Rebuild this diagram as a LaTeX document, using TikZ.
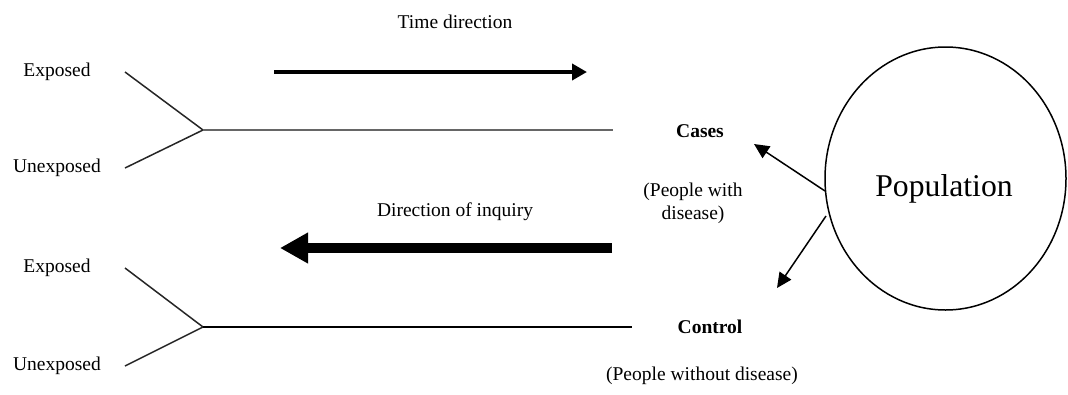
\documentclass[tikz,border=0pt]{standalone}
\usepackage{fontspec}
\setmainfont{Liberation Serif}
\usetikzlibrary{arrows.meta,shapes.geometric}
\begin{document}
\begin{tikzpicture}[x=1pt,y=-1pt,
  lbl/.style={inner sep=0pt,font=\fontsize{19.5}{23}\selectfont},
  boldlbl/.style={lbl,font=\fontsize{19.5}{23}\selectfont\bfseries},
  branch/.style={line width=1.5pt,black!85},
  thinarrow/.style={line width=1.5pt,-{Triangle[length=15pt,width=14pt]}},
  timearrow/.style={line width=4pt,-{Triangle[length=15pt,width=16pt]}},
  inquiryarrow/.style={line width=10pt,-{Triangle[length=28pt,width=29pt]}}]
\useasboundingbox (0,0) rectangle (1068,394);

% population
\node[draw,ellipse,line width=1.5pt,minimum width=241pt,minimum height=263pt,inner sep=0pt] (pop) at (945.5,178.5) {};
\node[inner sep=0pt,font=\fontsize{31.7}{36}\selectfont] (poplbl) at (944,189) {Population};

% cases branch
\node[lbl] (exp1) at (57,72) {Exposed};
\node[lbl] (unexp1) at (57,168) {Unexposed};
\coordinate (e1) at (125,72);
\coordinate (u1) at (125,168);
\coordinate (j1) at (203,130);
\coordinate (end1) at (613,130);
\draw[branch] (e1) -- (j1) -- (u1);
\draw[line width=1.4pt,black!60] (j1) -- (end1);
\node[boldlbl] (cases) at (700,131) {Cases};
\node[lbl,align=center] (withd) at (693,203) {(People with\\disease)};

% control branch
\node[lbl] (exp2) at (57,268) {Exposed};
\node[lbl] (unexp2) at (57,366) {Unexposed};
\coordinate (e2) at (125,268);
\coordinate (u2) at (125,366);
\coordinate (j2) at (203,327);
\coordinate (end2) at (632,327);
\draw[branch] (e2) -- (j2) -- (u2);
\draw[line width=1.5pt] (j2) -- (end2);
\node[boldlbl] (control) at (710,327) {Control};
\node[lbl] (withoutd) at (702,376) {(People without disease)};

% directions
\node[lbl] (timelbl) at (455,22) {Time direction};
\coordinate (t0) at (274,72);
\coordinate (t1) at (587,72);
\draw[timearrow] (t0) -- (t1);

\node[lbl] (inqlbl) at (455,212) {Direction of inquiry};
\coordinate (i0) at (612,248);
\coordinate (i1) at (280,248);
\draw[inquiryarrow] (i0) -- (i1);

% sampling from the population
\coordinate (p1) at (825,191);
\coordinate (p2) at (826,216);
\coordinate (tipcases) at (754,144);
\coordinate (tipcontrol) at (777,288);
\draw[thinarrow] (p1) -- (tipcases);
\draw[thinarrow] (p2) -- (tipcontrol);
\end{tikzpicture}
\end{document}
